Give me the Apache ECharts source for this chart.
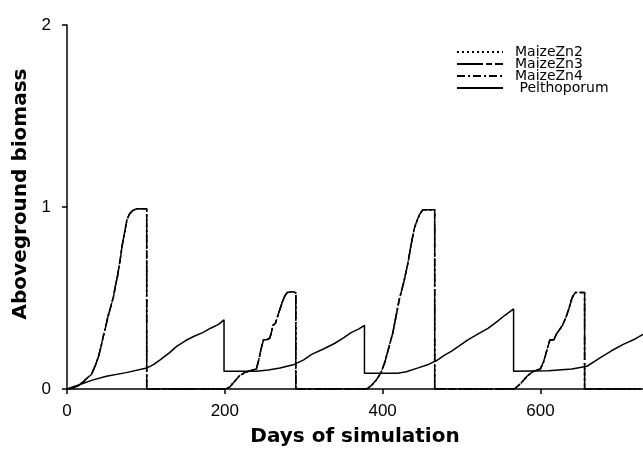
<!DOCTYPE html>
<html>
<head>
<meta charset="utf-8">
<title>Aboveground biomass</title>
<script src="https://cdn.jsdelivr.net/npm/echarts@6/dist/echarts.min.js"></script>
<style>
  html, body { margin: 0; padding: 0; background: #fff; }
  #chart { width: 643px; height: 452px; }
</style>
</head>
<body>
<div id="chart"></div>
<script>
// Simulated aboveground biomass, [day, biomass]
// The three maize zinc treatments grow along the same path in every cropping cycle.
const maizeZn2 = [
  [0, 0], [8, 0.005], [15, 0.02], [22, 0.045], [28, 0.07], [31, 0.08], [36, 0.13], [40, 0.18],
  [43, 0.23], [46, 0.29], [49, 0.34], [52, 0.40], [56, 0.46], [59, 0.51], [62, 0.58], [64, 0.62],
  [67, 0.70], [70, 0.79], [73, 0.86], [76, 0.93], [79, 0.96], [83, 0.98], [88, 0.99], [95, 0.99],
  [101, 0.99], [101, 0], [201, 0],
  [206, 0.01], [212, 0.04], [218, 0.07], [225, 0.09], [232, 0.10], [240, 0.11], [243, 0.16],
  [246, 0.22], [249, 0.27], [253, 0.27], [257, 0.28], [259, 0.31], [261, 0.35], [264, 0.36],
  [267, 0.40], [270, 0.44], [273, 0.48], [276, 0.51], [279, 0.53], [285, 0.535], [290, 0.53],
  [290, 0], [380, 0],
  [386, 0.02], [392, 0.05], [398, 0.09], [403, 0.15], [408, 0.23], [413, 0.31], [417, 0.40],
  [421, 0.49], [427, 0.59], [432, 0.69], [436, 0.79], [440, 0.88], [444, 0.93], [447, 0.96],
  [451, 0.985], [458, 0.985], [466, 0.985], [466, 0], [567, 0],
  [575, 0.03], [583, 0.07], [590, 0.095], [600, 0.11], [604, 0.15], [608, 0.21], [612, 0.27],
  [617, 0.27], [620, 0.30], [624, 0.325], [628, 0.35], [632, 0.39], [636, 0.44], [640, 0.50],
  [644, 0.53], [650, 0.53], [656, 0.53], [656, 0], [730, 0]
];
const maizeZn3 = maizeZn2;
const maizeZn4 = maizeZn2;

const pelthoporum = [
  [0, 0], [10, 0.015], [20, 0.03], [33, 0.05], [50, 0.07], [75, 0.09], [101, 0.115],
  [110, 0.135], [118, 0.16], [130, 0.20], [139, 0.234], [150, 0.265], [161, 0.29], [172, 0.31],
  [182, 0.334], [192, 0.355], [199, 0.38], [199, 0.098], [240, 0.098], [255, 0.105],
  [270, 0.115], [288, 0.135], [300, 0.16], [310, 0.19], [325, 0.22], [339, 0.25], [350, 0.28],
  [360, 0.31], [370, 0.33], [377, 0.35], [377, 0.086], [419, 0.086], [430, 0.095], [445, 0.116],
  [458, 0.135], [468, 0.155], [478, 0.185], [487, 0.207], [498, 0.24], [508, 0.27], [520, 0.30],
  [534, 0.334], [545, 0.37], [555, 0.405], [566, 0.44], [566, 0.098], [610, 0.10], [640, 0.11],
  [659, 0.125], [675, 0.17], [690, 0.21], [705, 0.245], [720, 0.275], [730, 0.30]
];

const seriesNames = ['MaizeZn2', 'MaizeZn3', 'MaizeZn4', 'Pelthoporum'];
const xTicks = [0, 200, 400, 600];
const yTicks = [0, 1, 2];

const tickFont = 'Liberation Sans, Arial, sans-serif';
const titleFont = 'DejaVu Sans, sans-serif';

function lineSeries(name, data, dash) {
  return {
    name: name,
    type: 'line',
    data: data,
    symbol: 'none',
    animation: false,
    lineStyle: { color: '#000', width: 1.5, type: dash },
    itemStyle: { color: '#000' }
  };
}

const chart = echarts.init(document.getElementById('chart'), null, { renderer: 'canvas' });
chart.setOption({
  backgroundColor: '#fff',
  animation: false,
  grid: { left: 67, right: 0, top: 25, bottom: 59 },
  legend: {
    orient: 'vertical',
    left: 451,
    top: 40,
    itemWidth: 46,
    itemHeight: 10,
    itemGap: -2,
    data: seriesNames,
    itemStyle: { opacity: 0 },
    formatter: n => (n === 'Pelthoporum' ? ' ' + n : n),
    textStyle: {
      fontFamily: titleFont, fontSize: 14, color: '#000',
      lineHeight: 11, padding: [0, 0, 0, 7]
    }
  },
  xAxis: {
    type: 'value',
    min: 0,
    max: 730,
    interval: 200,
    name: 'Days of simulation',
    nameLocation: 'middle',
    nameGap: 38,
    nameTextStyle: { fontFamily: titleFont, fontSize: 20, fontWeight: 'bold', color: '#000' },
    axisLine: { show: true, lineStyle: { color: '#000', width: 1.5 } },
    axisTick: { show: true, inside: false, length: 5, lineStyle: { color: '#000', width: 1.5 } },
    axisLabel: {
      margin: 14,
      showMaxLabel: false,
      fontFamily: tickFont,
      fontSize: 17,
      color: '#000',
      formatter: v => (xTicks.indexOf(v) >= 0 ? String(v) : '')
    },
    splitLine: { show: false }
  },
  yAxis: {
    type: 'value',
    min: 0,
    max: 2,
    interval: 1,
    name: 'Aboveground biomass',
    nameLocation: 'middle',
    nameRotate: 90,
    nameGap: 32,
    nameTextStyle: {
      fontFamily: titleFont, fontSize: 20, fontWeight: 'bold', color: '#000',
      padding: [0, 0, 0, 26]
    },
    axisLine: { show: true, lineStyle: { color: '#000', width: 1.5 } },
    axisTick: { show: true, inside: false, length: 5, lineStyle: { color: '#000', width: 1.5 } },
    axisLabel: {
      margin: 16,
      fontFamily: tickFont,
      fontSize: 17,
      color: '#000',
      formatter: v => (yTicks.indexOf(v) >= 0 ? String(v) : '')
    },
    splitLine: { show: false }
  },
  series: [
    lineSeries(seriesNames[0], maizeZn2, [2, 3]),
    lineSeries(seriesNames[1], maizeZn3, [26, 3, 6, 3]),
    lineSeries(seriesNames[2], maizeZn4, [8, 3, 2, 3]),
    lineSeries(seriesNames[3], pelthoporum, 'solid')
  ]
});
</script>
</body>
</html>
